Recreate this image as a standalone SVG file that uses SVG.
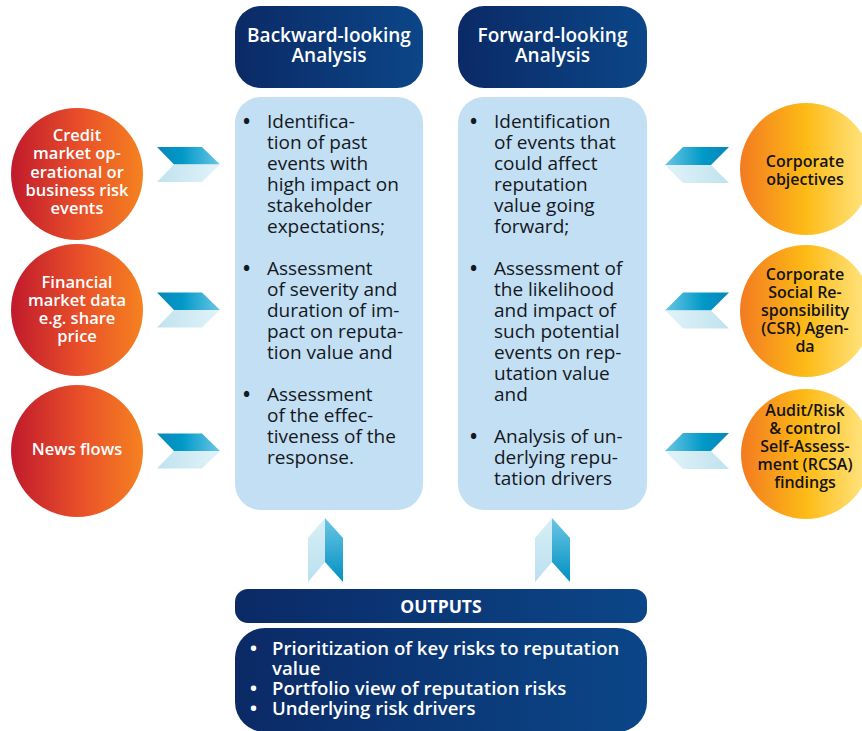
<svg xmlns="http://www.w3.org/2000/svg" width="862" height="731" viewBox="0 0 862 731">
<defs>
<linearGradient id="navy" x1="0" y1="0" x2="1" y2="0"><stop offset="0" stop-color="#0b2a66"/><stop offset="1" stop-color="#0b4688"/></linearGradient>
<linearGradient id="red" x1="0" y1="0" x2="1" y2="0"><stop offset="0" stop-color="#c01a2c"/><stop offset="0.55" stop-color="#ea5229"/><stop offset="1" stop-color="#f58220"/></linearGradient>
<linearGradient id="yel" x1="0" y1="0" x2="1" y2="0"><stop offset="0" stop-color="#f37a21"/><stop offset="0.5" stop-color="#fdbb16"/><stop offset="1" stop-color="#ffe88a"/></linearGradient>
<linearGradient id="cdR" x1="0" y1="0" x2="1" y2="0"><stop offset="0" stop-color="#0a86b8"/><stop offset="0.4" stop-color="#0099c8"/><stop offset="1" stop-color="#6cc6e4"/></linearGradient>
<linearGradient id="clR" x1="0" y1="0" x2="1" y2="0"><stop offset="0" stop-color="#bfe2ee"/><stop offset="1" stop-color="#e2f3f9"/></linearGradient>
<linearGradient id="cdL" x1="0" y1="0" x2="1" y2="0"><stop offset="0" stop-color="#6cc6e4"/><stop offset="0.6" stop-color="#0099c8"/><stop offset="1" stop-color="#0a86b8"/></linearGradient>
<linearGradient id="clL" x1="0" y1="0" x2="1" y2="0"><stop offset="0" stop-color="#e2f3f9"/><stop offset="1" stop-color="#bfe2ee"/></linearGradient>
<linearGradient id="upD" x1="0" y1="0" x2="0" y2="1"><stop offset="0" stop-color="#6cc6e4"/><stop offset="1" stop-color="#0090c2"/></linearGradient>
<linearGradient id="upL" x1="0" y1="0" x2="0" y2="1"><stop offset="0" stop-color="#d8eff7"/><stop offset="1" stop-color="#b9e0ee"/></linearGradient>
</defs>
<style>
text{font-family:"Open Sans","Liberation Sans",sans-serif}
.hd{font-size:19px;font-weight:600;fill:#fff;text-anchor:middle}
.bd{font-size:19px;font-weight:400;fill:#141821}
.bu{font-size:19px;font-weight:700;fill:#141821}
.cw{font-size:16.5px;font-weight:600;fill:#fff;text-anchor:middle}
.cb{font-size:16px;font-weight:600;fill:#141414;text-anchor:middle}
.ow{font-size:18.6px;font-weight:600;fill:#fff}
.obu{font-size:18.6px;font-weight:700;fill:#fff}
.box{fill:#c3dff4}
</style>

<g id="head-backward">
<rect x="235" y="6" width="188" height="82" rx="26" fill="url(#navy)"/>
<text class="hd"><tspan x="329" y="42">Backward-looking</tspan><tspan x="329" y="62">Analysis</tspan></text>
</g>
<g id="head-forward">
<rect x="458" y="6" width="189" height="82" rx="26" fill="url(#navy)"/>
<text class="hd"><tspan x="552.5" y="42">Forward-looking</tspan><tspan x="552.5" y="62">Analysis</tspan></text>
</g>

<g id="box-backward">
<rect class="box" x="235" y="97" width="188" height="413" rx="26"/>
<text class="bu"><tspan x="243" y="128">•</tspan><tspan x="243" y="275">•</tspan><tspan x="243" y="401">•</tspan></text>
<text class="bd"><tspan x="267" y="128">Identifica-</tspan><tspan x="267" y="149">tion of past</tspan><tspan x="267" y="170">events with</tspan><tspan x="267" y="191">high impact on</tspan><tspan x="267" y="212">stakeholder</tspan><tspan x="267" y="233">expectations;</tspan></text>
<text class="bd"><tspan x="267" y="275">Assessment</tspan><tspan x="267" y="296">of severity and</tspan><tspan x="267" y="317">duration of im-</tspan><tspan x="267" y="338">pact on reputa-</tspan><tspan x="267" y="359">tion value and</tspan></text>
<text class="bd"><tspan x="267" y="401">Assessment</tspan><tspan x="267" y="422">of the effec-</tspan><tspan x="267" y="443">tiveness of the</tspan><tspan x="267" y="464">response.</tspan></text>
</g>

<g id="box-forward">
<rect class="box" x="458" y="97" width="189" height="413" rx="26"/>
<text class="bu"><tspan x="470" y="128">•</tspan><tspan x="470" y="275">•</tspan><tspan x="470" y="443">•</tspan></text>
<text class="bd"><tspan x="494" y="128">Identification</tspan><tspan x="494" y="149">of events that</tspan><tspan x="494" y="170">could affect</tspan><tspan x="494" y="191">reputation</tspan><tspan x="494" y="212">value going</tspan><tspan x="494" y="233">forward;</tspan></text>
<text class="bd"><tspan x="494" y="275">Assessment of</tspan><tspan x="494" y="296">the likelihood</tspan><tspan x="494" y="317">and impact of</tspan><tspan x="494" y="338">such potential</tspan><tspan x="494" y="359">events on rep-</tspan><tspan x="494" y="380">utation value</tspan><tspan x="494" y="401">and</tspan></text>
<text class="bd"><tspan x="494" y="443">Analysis of un-</tspan><tspan x="494" y="464">derlying repu-</tspan><tspan x="494" y="485">tation drivers</tspan></text>
</g>

<g id="in-credit">
<circle cx="77" cy="174" r="66" fill="url(#red)"/>
<text class="cw"><tspan x="77" y="141">Credit</tspan><tspan x="77" y="159">market op-</tspan><tspan x="77" y="178">erational or</tspan><tspan x="77" y="196">business risk</tspan><tspan x="77" y="214">events</tspan></text>
</g>
<g id="in-financial">
<circle cx="77" cy="310" r="66" fill="url(#red)"/>
<text class="cw"><tspan x="77" y="288">Financial</tspan><tspan x="77" y="306">market data</tspan><tspan x="77" y="324">e.g. share</tspan><tspan x="77" y="342">price</tspan></text>
</g>
<g id="in-news">
<circle cx="77" cy="451" r="66" fill="url(#red)"/>
<text class="cw" x="77" y="455">News flows</text>
</g>

<g id="in-objectives">
<circle cx="806" cy="169" r="66" fill="url(#yel)"/>
<text class="cb"><tspan x="805" y="167">Corporate</tspan><tspan x="805" y="185">objectives</tspan></text>
</g>
<g id="in-csr">
<circle cx="806" cy="311" r="66" fill="url(#yel)"/>
<text class="cb"><tspan x="805" y="280">Corporate</tspan><tspan x="805" y="298">Social Re-</tspan><tspan x="805" y="316">sponsibility</tspan><tspan x="805" y="334">(CSR) Agen-</tspan><tspan x="805" y="352">da</tspan></text>
</g>
<g id="in-rcsa">
<circle cx="806" cy="454" r="65" fill="url(#yel)"/>
<text class="cb"><tspan x="805" y="416">Audit/Risk</tspan><tspan x="805" y="434">&amp; control</tspan><tspan x="805" y="452">Self-Assess-</tspan><tspan x="805" y="470">ment (RCSA)</tspan><tspan x="805" y="488">findings</tspan></text>
</g>

<g id="outputs-title">
<rect x="235" y="589" width="412" height="34" rx="13" fill="url(#navy)"/>
<text x="441" y="613" style="font-size:17.5px;font-weight:700;fill:#fff;text-anchor:middle">OUTPUTS</text>
</g>
<g id="outputs-list">
<rect x="235" y="628" width="412" height="104" rx="30" fill="url(#navy)"/>
<text class="obu"><tspan x="250" y="655">•</tspan><tspan x="250" y="695">•</tspan><tspan x="250" y="715">•</tspan></text>
<text class="ow"><tspan x="272" y="655">Prioritization of key risks to reputation</tspan><tspan x="272" y="675">value</tspan></text>
<text class="ow" x="272" y="695">Portfolio view of reputation risks</text>
<text class="ow" x="272" y="715">Underlying risk drivers</text>
</g>

<g id="connectors">
<g id="chev-l1">
<polygon points="157,147 202,147 220,164.5 174,164.5" fill="url(#cdR)"/>
<polygon points="174,164.5 220,164.5 202,182 157,182" fill="url(#clR)"/>
</g>
<g id="chev-l2" transform="translate(0,145.5)">
<polygon points="157,147 202,147 220,164.5 174,164.5" fill="url(#cdR)"/>
<polygon points="174,164.5 220,164.5 202,182 157,182" fill="url(#clR)"/>
</g>
<g id="chev-l3" transform="translate(0,286.5)">
<polygon points="157,147 202,147 220,164.5 174,164.5" fill="url(#cdR)"/>
<polygon points="174,164.5 220,164.5 202,182 157,182" fill="url(#clR)"/>
</g>
<g id="chev-r1">
<polygon points="683,147 729,147 711,165 665,165" fill="url(#cdL)"/>
<polygon points="665,165 711,165 729,183 683,183" fill="url(#clL)"/>
</g>
<g id="chev-r2" transform="translate(0,145.5)">
<polygon points="683,147 729,147 711,165 665,165" fill="url(#cdL)"/>
<polygon points="665,165 711,165 729,183 683,183" fill="url(#clL)"/>
</g>
<g id="chev-r3" transform="translate(0,286)">
<polygon points="683,147 729,147 711,165 665,165" fill="url(#cdL)"/>
<polygon points="665,165 711,165 729,183 683,183" fill="url(#clL)"/>
</g>
<g id="up-1">
<polygon points="325,518 308,538 308,582 325,562" fill="url(#upL)"/>
<polygon points="325,518 343,538 343,582 325,562" fill="url(#upD)"/>
</g>
<g id="up-2">
<polygon points="552,518 535,538 535,582 552,562" fill="url(#upL)"/>
<polygon points="552,518 570,538 570,582 552,562" fill="url(#upD)"/>
</g>
</g>
</svg>
